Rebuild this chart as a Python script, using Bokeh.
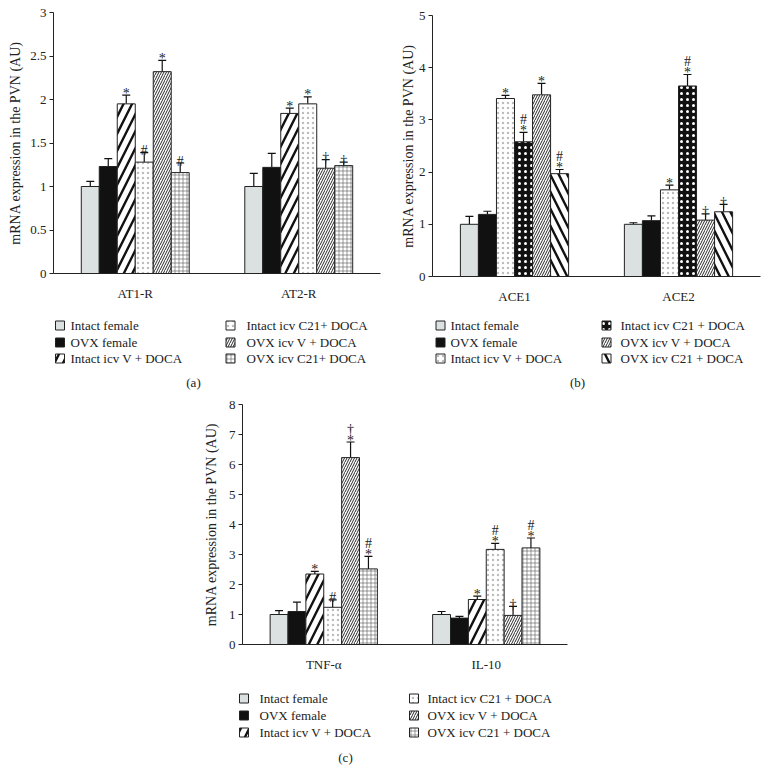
from bokeh.plotting import figure
from bokeh.models import ColumnDataSource, FixedTicker, Range1d, Whisker, TeeHead
from bokeh.layouts import column, row, Spacer
from bokeh.core.properties import value
from bokeh.embed import file_html
from bokeh.resources import INLINE

# ---------------- data ----------------
groups_a = ["AT1-R", "AT2-R"]
series_a = ["Intact female", "OVX female", "Intact icv V + DOCA",
            "Intact icv C21+ DOCA", "OVX icv V + DOCA", "OVX icv C21+ DOCA"]
means_a = [[1.00, 1.00], [1.23, 1.22], [1.95, 1.84], [1.28, 1.95], [2.32, 1.21], [1.16, 1.24]]
errtop_a = [[1.06, 1.15], [1.32, 1.38], [2.05, 1.90], [1.39, 2.03], [2.45, 1.31], [1.27, 1.28]]
siglo_a = [["", ""], ["", ""], ["*", "*"], ["#", "*"], ["*", "†"], ["#", "†"]]
sighi_a = [["", ""], ["", ""], ["", ""], ["", ""], ["", ""], ["", ""]]
yticks_a = [0, 0.5, 1, 1.5, 2, 2.5, 3]
yticklabels_a = ["0", "0.5", "1", "1.5", "2", "2.5", "3"]

groups_b = ["ACE1", "ACE2"]
series_b = ["Intact female", "OVX female", "Intact icv V + DOCA",
            "Intact icv C21 + DOCA", "OVX icv V + DOCA", "OVX icv C21 + DOCA"]
means_b = [[1.00, 1.00], [1.19, 1.07], [3.41, 1.66], [2.58, 3.65], [3.48, 1.08], [1.97, 1.24]]
errtop_b = [[1.15, 1.03], [1.25, 1.16], [3.47, 1.75], [2.76, 3.87], [3.70, 1.20], [2.05, 1.38]]
siglo_b = [["", ""], ["", ""], ["*", "*"], ["*", "*"], ["*", "†"], ["*", "†"]]
sighi_b = [["", ""], ["", ""], ["", ""], ["#", "#"], ["", ""], ["#", ""]]
yticks_b = [0, 1, 2, 3, 4, 5]
yticklabels_b = ["0", "1", "2", "3", "4", "5"]

groups_c = ["TNF-α", "IL-10"]
series_c = ["Intact female", "OVX female", "Intact icv V + DOCA",
            "Intact icv C21 + DOCA", "OVX icv V + DOCA", "OVX icv C21 + DOCA"]
means_c = [[1.00, 1.00], [1.10, 0.88], [2.35, 1.50], [1.24, 3.17], [6.23, 0.97], [2.52, 3.22]]
errtop_c = [[1.13, 1.10], [1.41, 0.94], [2.44, 1.61], [1.49, 3.37], [6.75, 1.27], [2.94, 3.55]]
siglo_c = [["", ""], ["", ""], ["*", "*"], ["#", "*"], ["*", "†"], ["*", "*"]]
sighi_c = [["", ""], ["", ""], ["", ""], ["", "#"], ["†", ""], ["#", "#"]]
yticks_c = [0, 1, 2, 3, 4, 5, 6, 7, 8]
yticklabels_c = ["0", "1", "2", "3", "4", "5", "6", "7", "8"]

YTITLE = "mRNA expression in the PVN (AU)"
FONT = "Liberation Serif"
TXT = "#222222"

# ---------------- styles ----------------
GRAY = dict(fill_color="#dbe1e0")
BLACK = dict(fill_color="#111111")
WIDE_R = dict(fill_color="white", hatch_pattern="right_diagonal_line", hatch_color="#111111",
              hatch_scale=17, hatch_weight=2.4)
WIDE_L = dict(fill_color="white", hatch_pattern="left_diagonal_line", hatch_color="#111111",
              hatch_scale=17, hatch_weight=2.4)
DOTS = dict(fill_color="white", hatch_pattern="dot", hatch_color="#bdbdbd",
            hatch_scale=5, hatch_weight=1)
BLACKDOTS = dict(fill_color="#111111", hatch_pattern="dot", hatch_color="white",
                 hatch_scale=6, hatch_weight=1)
FINE = dict(fill_color="white", hatch_pattern="right_diagonal_line", hatch_color="#2a2a2a",
            hatch_scale=5, hatch_weight=1.0)
GRID = dict(fill_color="white", hatch_pattern="cross", hatch_color="#555555",
            hatch_scale=4, hatch_weight=0.6)

styles_a = [GRAY, BLACK, WIDE_R, DOTS, FINE, GRID]
styles_b = [GRAY, BLACK, DOTS, BLACKDOTS, FINE, WIDE_L]
styles_c = [GRAY, BLACK, WIDE_R, DOTS, FINE, GRID]

BW = 0.11


def make_panel(groups, series, means, errs, siglo, sighi, yticks, yticklabels, styles,
               width, height, borders, title_standoff):
    left, right, top, bottom = borders
    p = figure(width=width, height=height, x_range=(0.5, 2.5),
               y_range=(yticks[0], yticks[-1]), output_backend="svg", toolbar_location=None,
               min_border_left=left, min_border_right=right, min_border_top=top,
               min_border_bottom=bottom)
    p.frame_align = False
    p.outline_line_color = None
    p.xgrid.visible = False
    p.ygrid.visible = False

    for i, name in enumerate(series):
        xs = [g + 1 + (i - 2.5) * BW for g in range(len(groups))]
        src = ColumnDataSource(dict(x=xs, top=means[i], err=errs[i], lo=siglo[i], hi=sighi[i]))
        p.vbar(x="x", top="top", width=BW, source=src, line_color="#222222",
               line_width=1, **styles[i])
        w = Whisker(base="x", lower="top", upper="err", source=src, dimension="height",
                    line_color="#111111", line_width=1.2, lower_head=None,
                    upper_head=TeeHead(size=8, line_width=1.2, line_color="#111111"))
        p.add_layout(w)
        p.text(x="x", y="err", text="lo", source=src, text_align="center",
               text_baseline="alphabetic", y_offset=-2, text_font=value(FONT),
               text_font_size="14px", text_color=TXT)
        p.text(x="x", y="err", text="hi", source=src, text_align="center",
               text_baseline="alphabetic", y_offset=-13, text_font=value(FONT),
               text_font_size="14px", text_color=TXT)

    ya = p.yaxis[0]
    ya.ticker = FixedTicker(ticks=yticks)
    ya.major_label_overrides = {t: l for t, l in zip(yticks, yticklabels)}
    ya.minor_tick_line_color = None
    ya.major_tick_out = 4
    ya.major_tick_in = 0
    ya.major_label_standoff = 3
    ya.axis_label = YTITLE
    ya.axis_label_standoff = title_standoff
    ya.axis_label_text_font = FONT
    ya.axis_label_text_font_style = "normal"
    ya.axis_label_text_font_size = "14px"
    ya.axis_label_text_color = TXT
    ya.major_label_text_font = FONT
    ya.major_label_text_font_size = "13px"
    ya.major_label_text_color = TXT
    ya.axis_line_color = "#222222"
    ya.major_tick_line_color = "#222222"

    xa = p.xaxis[0]
    xa.ticker = FixedTicker(ticks=[1, 2])
    xa.major_label_overrides = {1: groups[0], 2: groups[1]}
    xa.major_tick_line_color = None
    xa.minor_tick_line_color = None
    xa.major_label_standoff = 6
    xa.major_label_text_font = FONT
    xa.major_label_text_font_size = "13px"
    xa.major_label_text_color = TXT
    xa.axis_line_color = "#222222"
    return p


def make_legend(series, styles, width, height, x0, sw_x, tx_x, row_y, caption, cap_xy):
    # axis-less figure whose data units are page pixels (y grows downward)
    lf = figure(width=width, height=height, x_range=Range1d(x0, x0 + width),
                y_range=Range1d(height, 0), output_backend="svg", toolbar_location=None,
                x_axis_type=None, y_axis_type=None, min_border=0)
    lf.frame_align = False
    lf.outline_line_color = None
    lf.xgrid.visible = False
    lf.ygrid.visible = False
    for i, name in enumerate(series):
        c, r = divmod(i, 3)
        lf.rect(x=[sw_x[c]], y=[row_y[r]], width=9, height=9, line_color="#222222",
                line_width=1, **styles[i])
        lf.text(x=[tx_x[c]], y=[row_y[r]], text=[name], text_align="left",
                text_baseline="middle", text_font=value(FONT), text_font_size="13px",
                text_color=TXT)
    lf.text(x=[cap_xy[0]], y=[cap_xy[1]], text=[caption], text_align="center",
            text_baseline="middle", text_font=value(FONT), text_font_size="13px",
            text_color=TXT)
    return lf


pa = make_panel(groups_a, series_a, means_a, errtop_a, siglo_a, sighi_a, yticks_a,
                yticklabels_a, styles_a, 390, 308, (53, 10, 12, 35), 4)
pb = make_panel(groups_b, series_b, means_b, errtop_b, siglo_b, sighi_b, yticks_b,
                yticklabels_b, styles_b, 380, 308, (42, 10, 15, 32), 0)
pc = make_panel(groups_c, series_c, means_c, errtop_c, siglo_c, sighi_c, yticks_c,
                yticklabels_c, styles_c, 380, 288, (42, 13, 12, 36), 7)

la = make_legend(series_a, styles_a, 390, 84, 0, (59.5, 230), (70, 246),
                 (17, 34, 50), "(a)", (193, 74))
lb = make_legend(series_b, styles_b, 380, 84, 390, (440, 606), (450, 620),
                 (17, 34, 50), "(b)", (577, 74))
lc = make_legend(series_c, styles_c, 380, 88, 200, (243.5, 413.5), (259, 427),
                 (18, 35, 52), "(c)", (345, 77))

layout = column(row(column(pa, la), column(pb, lb)),
                row(Spacer(width=200, height=10), column(pc, lc)))

open("out.html", "w").write(file_html(layout, INLINE))
